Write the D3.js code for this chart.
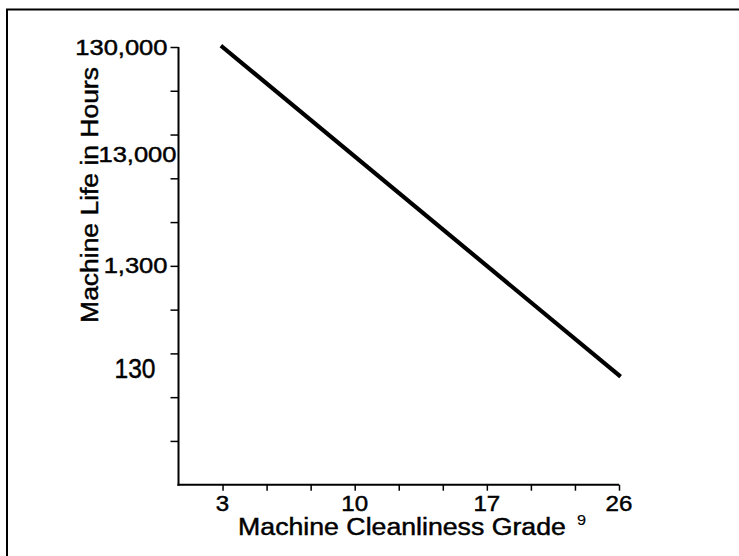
<!DOCTYPE html>
<html>
<head>
<meta charset="utf-8">
<script src="https://cdn.jsdelivr.net/npm/d3@7/dist/d3.min.js"></script>
<style>
  html, body { margin: 0; padding: 0; background: #fff; }
  svg { display: block; }
  text { font-family: "Liberation Sans", Arial, sans-serif; fill: #000; stroke: #000; stroke-width: 0.45px; }
</style>
</head>
<body>
<svg id="chart" width="739" height="556"></svg>
<script>
// ---- data ----
const grades = [3, 26];                 // Machine Cleanliness Grade
const hours = [130000, 130];            // Machine Life in Hours
const yLabelValues = [130000, 13000, 1300, 130];
const xLabels = ["3", "10", "17", "26"];
const xTitle = "Machine Cleanliness Grade";
const xTitleSup = "9";
const yTitle = "Machine Life in Hours";

// ---- layout ----
const svg = d3.select("#chart");
const plotL = 178.5, plotR = 619, plotT = 47, plotB = 484.7;
const STRETCH = 1.16; // glyphs in the reference are horizontally wide

function widen(sel, f) {
  sel.each(function () {
    const len = this.getComputedTextLength();
    d3.select(this).attr("textLength", len * (f || STRETCH))
      .attr("lengthAdjust", "spacingAndGlyphs");
  });
}

svg.append("rect")
  .attr("x", 7).attr("y", 9.5).attr("width", 760).attr("height", 580)
  .attr("fill", "none").attr("stroke", "#000").attr("stroke-width", 2);

// x: 9 equal steps between first and last grade, axis starts one step before
const xStep = (grades[1] - grades[0]) / 9;
const x = d3.scaleLinear().domain([grades[0] - xStep, grades[1]]).range([plotL, plotR]);
const y = d3.scaleLog().domain([13, 130000]).range([plotB, plotT]);

// y minor ticks every 0.4 decade
const yTicks = d3.range(1, 11).map(k => 13 * Math.pow(10, 0.4 * k));
const yAxis = svg.append("g").attr("transform", `translate(${plotL},0)`)
  .call(d3.axisLeft(y).tickValues(yTicks).tickSize(8).tickSizeOuter(0).tickFormat(""));
yAxis.select(".domain").attr("stroke-width", 2).attr("d", `M0,${plotB + 1}V${plotT}`);
yAxis.selectAll(".tick line").attr("stroke-width", 1.5);

// y labels
const yLab = svg.append("g").attr("transform", `translate(${plotL},0)`)
  .call(d3.axisLeft(y).tickValues(yLabelValues).tickSize(0).tickPadding(11)
    .tickFormat(d3.format(",")));
yLab.select(".domain").remove();
yLab.attr("font-family", null).attr("font-size", null);
yLab.selectAll("text").attr("font-size", 22);
widen(yLab.selectAll("text").filter(d => d !== 130));
// label offsets as drawn in the reference
yLab.selectAll("text").filter(d => d === 13000).attr("x", -2).attr("dy", "0.22em");
yLab.selectAll("text").filter(d => d === 130)
  .attr("font-size", 27).attr("x", -23).attr("dy", "0.1em");
widen(yLab.selectAll("text").filter(d => d === 130), 0.91);

// x ticks
const xTicks = d3.range(10).map(k => grades[0] + k * xStep);
const xAxis = svg.append("g").attr("transform", `translate(0,${plotB})`)
  .call(d3.axisBottom(x).tickValues(xTicks).tickSize(6).tickSizeOuter(0).tickFormat(""));
xAxis.select(".domain").attr("stroke-width", 2).attr("d", `M${plotL - 1},0H${plotR}`);
xAxis.selectAll(".tick line").attr("stroke-width", 1.5);

// x labels at every third tick
const xLabelTicks = xLabels.map((t, i) => grades[0] + i * 3 * xStep);
const xl = svg.append("g").selectAll("text").data(xLabels).join("text")
  .attr("x", (d, i) => x(xLabelTicks[i]))
  .attr("y", 510.5)
  .attr("text-anchor", "middle")
  .attr("font-size", 21.5)
  .text(d => d);
widen(xl, 1.12);

// line
const pts = grades.map((g, i) => [g, hours[i]]);
svg.append("path")
  .datum(pts)
  .attr("fill", "none").attr("stroke", "#000").attr("stroke-width", 4.2)
  .attr("stroke-linecap", "square")
  .attr("d", d3.line().x(d => x(d[0])).y(d => y(d[1])));

// titles
const xt = svg.append("text")
  .attr("x", 402).attr("y", 535)
  .attr("text-anchor", "middle")
  .attr("font-size", 23)
  .text(xTitle);
widen(xt);
const sup = svg.append("text")
  .attr("x", 577).attr("y", 525)
  .attr("font-size", 14)
  .style("stroke-width", "0.15px")
  .text(xTitleSup);
widen(sup);

const yt = svg.append("text")
  .attr("transform", "translate(98,195) rotate(-90)")
  .attr("text-anchor", "middle")
  .attr("font-size", 23)
  .text(yTitle);
widen(yt, 1.15);
</script>
</body>
</html>
